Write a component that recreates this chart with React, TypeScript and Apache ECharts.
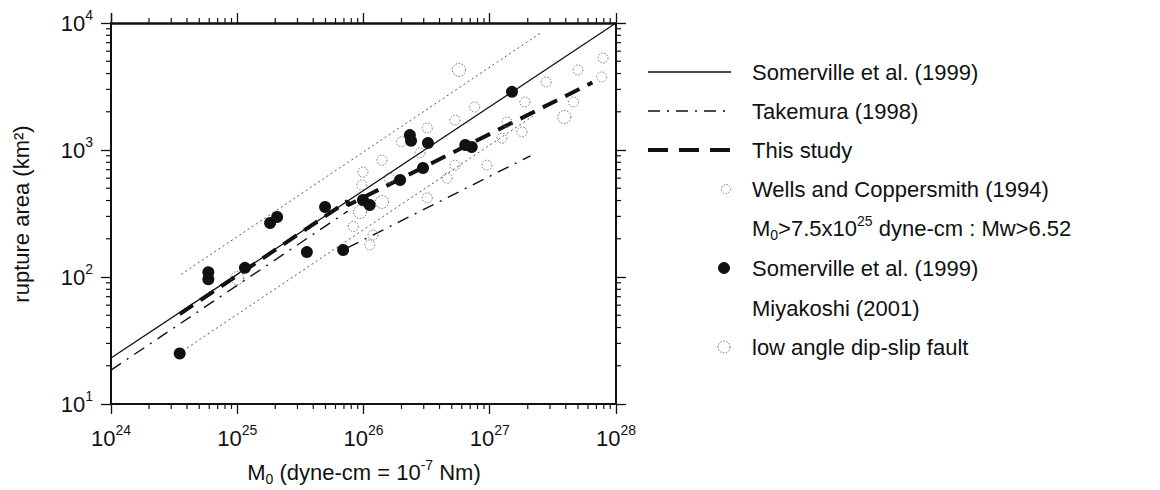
import React, { useEffect, useRef } from 'react';
import * as echarts from 'echarts';

const FONT = "'Liberation Sans', Arial, Helvetica, sans-serif";
const INK = '#111111';

const X_MIN = 1e24;
const X_MAX = 1e28;
const Y_MIN = 10;
const Y_MAX = 1e4;

// minor tick structure (log axes: 2..9 x 10^k)
const minorMultipliers = [2, 3, 4, 5, 6, 7, 8, 9];
const xDecades = [1e24, 1e25, 1e26, 1e27];
const yDecades = [10, 100, 1000];

// regression lines (end points)
const somervilleLine = [[1e24, 23], [1e28, 10000]];
const upperBound = [[3.6e24, 105], [2.6e27, 8500]];
const lowerBound = [[4.0e24, 27.6], [2.2e27, 1850]];
const takemuraLow = [[1e24, 18.5], [7.5e25, 330]];
const takemuraHigh = [[7.5e25, 170], [2.1e27, 900]];
const thisStudyLine = [[3.5e24, 51], [7.5e25, 396], [7.5e25, 367], [6.5e27, 3400]];

// Wells and Coppersmith (1994) events
const wellsData = [
  [2.8e27, 3430], [1.9e27, 2390], [5.0e27, 4270], [7.9e27, 5300], [7.7e27, 3760],
  [4.6e27, 2390], [1.37e27, 1660], [1.8e27, 1390], [7.6e26, 2180], [5.3e26, 1720],
  [1.25e27, 1240], [9.5e26, 760], [5.3e26, 760], [3.2e26, 1490], [2.0e26, 1160],
  [1.4e26, 830], [9.9e25, 670], [9.7e25, 530], [4.6e26, 600], [8.3e25, 250],
  [1.19e26, 214], [1.12e26, 179], [3.2e26, 420], [2.8e26, 950], [1.6e26, 600],
];

// low angle dip-slip faults
const lowAngleData = [
  [5.7e26, 4270], [3.9e27, 1820], [1.0e25, 98], [9.4e25, 325], [1.4e26, 390],
];

// Somerville et al. (1999) / Miyakoshi (2001) events
const somervilleData = [
  [3.5e24, 25], [5.9e24, 109], [5.9e24, 96], [1.15e25, 118], [3.56e25, 157],
  [6.9e25, 163], [1.82e25, 266], [2.07e25, 297], [4.96e25, 356], [9.9e25, 404],
  [1.12e26, 369], [1.95e26, 581], [2.96e26, 721], [2.33e26, 1310], [2.38e26, 1180],
  [3.24e26, 1135], [7.2e26, 1057], [6.4e26, 1094], [1.5e27, 2870],
];

const legendLabels = [
  'Somerville et al. (1999)',
  'Takemura (1998)',
  'This study',
  'Wells and Coppersmith (1994)',
  '{t|M}{sub|0}{t|>7.5x10}{sup|25}{t| dyne-cm : Mw>6.52}',
  'Somerville et al. (1999)',
  'Miyakoshi (2001)',
  'low angle dip-slip fault',
];

const xMinorTicks: number[] = [];
xDecades.forEach((d) => minorMultipliers.forEach((m) => xMinorTicks.push(m * d)));
const yMinorTicks: number[] = [];
yDecades.forEach((d) => minorMultipliers.forEach((m) => yMinorTicks.push(m * d)));

const textRich = {
  t: { fontSize: 22, lineHeight: 28, fontFamily: FONT, color: INK, verticalAlign: 'middle' },
  sub: { fontSize: 14, lineHeight: 14, fontFamily: FONT, color: INK, verticalAlign: 'bottom' },
  sup: { fontSize: 14, lineHeight: 14, fontFamily: FONT, color: INK, verticalAlign: 'top' },
};

const axisRich = {
  b: { fontSize: 22, lineHeight: 30, fontFamily: FONT, color: INK, verticalAlign: 'middle' },
  s: { fontSize: 14, lineHeight: 14, fontFamily: FONT, color: INK, verticalAlign: 'top' },
};

const powLabel = (v: number) => `{b|10}{s|${Math.round(Math.log10(v))}}`;

function logAxis(min: number, max: number, split: number, position: string, labels: boolean, lw: number, margin: number) {
  return {
    type: 'log',
    logBase: 10,
    min,
    max,
    splitNumber: split,
    position,
    splitLine: { show: false },
    axisLine: { show: true, onZero: false, lineStyle: { color: INK, width: lw } },
    axisTick: { show: true, inside: false, length: 10, lineStyle: { color: INK, width: 1.3 } },
    minorTick: { show: false },
    axisLabel: labels
      ? { show: true, formatter: powLabel, rich: axisRich, margin }
      : { show: false },
  };
}

const tickStyle = { stroke: INK, lineWidth: 1.2 };

const LEG_LINE_X1 = 648;
const LEG_LINE_X2 = 731;
const LEG_SYM_X = 724;
const LEG_TEXT_X = 752;
const legendRows = [72, 111, 150, 189, 228, 268, 308, 347];

function buildGraphic() {
  const g: any[] = [];
  g.push({
    type: 'text',
    x: 21,
    y: 214,
    rotation: Math.PI / 2,
    style: { text: 'rupture area (km²)', fontFamily: FONT, fontSize: 22, fill: INK, align: 'center', verticalAlign: 'middle' },
  });
  g.push({
    type: 'text',
    x: 364,
    y: 472,
    style: {
      text: '{t|M}{sub|0}{t| (dyne-cm = 10}{sup|-7}{t| Nm)}',
      rich: textRich,
      fontFamily: FONT,
      fontSize: 22,
      fill: INK,
      align: 'center',
      verticalAlign: 'middle',
    },
  });
  // legend markers
  g.push({ type: 'line', shape: { x1: LEG_LINE_X1, y1: legendRows[0], x2: LEG_LINE_X2, y2: legendRows[0] }, style: { stroke: INK, lineWidth: 1.3 } });
  g.push({ type: 'line', shape: { x1: LEG_LINE_X1, y1: legendRows[1], x2: LEG_LINE_X2, y2: legendRows[1] }, style: { stroke: INK, lineWidth: 1.3, lineDash: [12, 7, 2, 7] } });
  g.push({ type: 'line', shape: { x1: LEG_LINE_X1, y1: legendRows[2], x2: LEG_LINE_X2, y2: legendRows[2] }, style: { stroke: INK, lineWidth: 4, lineDash: [20, 11] } });
  g.push({ type: 'circle', shape: { cx: LEG_SYM_X + 2, cy: legendRows[3], r: 4.5 }, style: { fill: 'none', stroke: '#777', lineWidth: 1, lineDash: [1.5, 1.5] } });
  g.push({ type: 'circle', shape: { cx: LEG_SYM_X, cy: legendRows[5], r: 5.5 }, style: { fill: INK, stroke: INK, lineWidth: 1 } });
  g.push({ type: 'circle', shape: { cx: LEG_SYM_X, cy: legendRows[7], r: 6 }, style: { fill: 'none', stroke: '#666', lineWidth: 1, lineDash: [1.5, 1.5] } });
  legendLabels.forEach((txt, i) => {
    g.push({
      type: 'text',
      x: LEG_TEXT_X,
      y: legendRows[i],
      style: {
        text: txt.startsWith('{') ? txt : `{t|${txt}}`,
        rich: textRich,
        fontFamily: FONT,
        fontSize: 22,
        fill: INK,
        align: 'left',
        verticalAlign: 'middle',
      },
    });
  });
  return g;
}

const option: any = {
  animation: false,
  backgroundColor: '#ffffff',
  grid: { left: 111, right: 544, top: 23, bottom: 86, containLabel: false },
  xAxis: [
    logAxis(X_MIN, X_MAX, 4, 'bottom', true, 2, 19),
    logAxis(X_MIN, X_MAX, 4, 'top', false, 2.5, 0),
  ],
  yAxis: [
    logAxis(Y_MIN, Y_MAX, 3, 'left', true, 2, 18),
    logAxis(Y_MIN, Y_MAX, 3, 'right', false, 2, 0),
  ],
  graphic: buildGraphic(),
  series: [
    {
      type: 'custom',
      name: 'xMinor',
      silent: true,
      z: 10,
      data: xMinorTicks.map((v) => [v, Y_MIN]),
      renderItem: (params: any, api: any) => {
        const v = api.value(0);
        const b = api.coord([v, Y_MIN]);
        const t = api.coord([v, Y_MAX]);
        return {
          type: 'group',
          children: [
            { type: 'line', shape: { x1: b[0], y1: b[1], x2: b[0], y2: b[1] + 5 }, style: tickStyle },
            { type: 'line', shape: { x1: t[0], y1: t[1], x2: t[0], y2: t[1] - 5 }, style: tickStyle },
          ],
        };
      },
    },
    {
      type: 'custom',
      name: 'yMinor',
      silent: true,
      z: 10,
      data: yMinorTicks.map((v) => [X_MIN, v]),
      renderItem: (params: any, api: any) => {
        const v = api.value(1);
        const l = api.coord([X_MIN, v]);
        const r = api.coord([X_MAX, v]);
        return {
          type: 'group',
          children: [
            { type: 'line', shape: { x1: l[0], y1: l[1], x2: l[0] - 5, y2: l[1] }, style: tickStyle },
            { type: 'line', shape: { x1: r[0], y1: r[1], x2: r[0] + 5, y2: r[1] }, style: tickStyle },
          ],
        };
      },
    },
    {
      type: 'line', name: 'Somerville upper', data: upperBound, showSymbol: false, z: 2,
      lineStyle: { color: '#555', width: 1, type: [2, 3] },
    },
    {
      type: 'line', name: 'Somerville lower', data: lowerBound, showSymbol: false, z: 2,
      lineStyle: { color: '#555', width: 1, type: [2, 3] },
    },
    {
      type: 'line', name: 'Somerville et al. (1999)', data: somervilleLine, showSymbol: false, z: 3,
      lineStyle: { color: INK, width: 1.3, type: 'solid' },
    },
    {
      type: 'line', name: 'Takemura (1998)', data: takemuraLow, showSymbol: false, z: 3,
      lineStyle: { color: INK, width: 1.4, type: [12, 7, 2, 7] },
    },
    {
      type: 'line', name: 'Takemura (1998) b', data: takemuraHigh, showSymbol: false, z: 3,
      lineStyle: { color: INK, width: 1.4, type: [12, 7, 2, 7] },
    },
    {
      type: 'line', name: 'This study', data: thisStudyLine, showSymbol: false, z: 4,
      lineStyle: { color: INK, width: 4, type: [16, 9] },
    },
    {
      type: 'scatter', name: 'Wells and Coppersmith (1994)', data: wellsData, symbol: 'circle', symbolSize: 10, z: 5,
      itemStyle: { color: 'rgba(255,255,255,0)', borderColor: '#777', borderWidth: 1, borderType: [1.5, 1.5], opacity: 1 },
    },
    {
      type: 'scatter', name: 'low angle dip-slip fault', data: lowAngleData, symbol: 'circle', symbolSize: 13, z: 5,
      itemStyle: { color: 'rgba(255,255,255,0)', borderColor: '#666', borderWidth: 1, borderType: [1.5, 1.5], opacity: 1 },
    },
    {
      type: 'scatter', name: 'Somerville et al. (1999) data', data: somervilleData, symbol: 'circle', symbolSize: 12, z: 6,
      itemStyle: { color: INK, opacity: 1 },
    },
  ],
};

export default function App() {
  const ref = useRef<HTMLDivElement>(null);
  useEffect(() => {
    if (!ref.current) return;
    const chart = echarts.init(ref.current, undefined, { renderer: 'svg' });
    chart.setOption(option);
    return () => {
      chart.dispose();
    };
  }, []);
  return (
    <div
      ref={ref}
      style={{ position: 'fixed', left: 0, top: 0, width: 1160, height: 490, background: '#ffffff' }}
    />
  );
}
